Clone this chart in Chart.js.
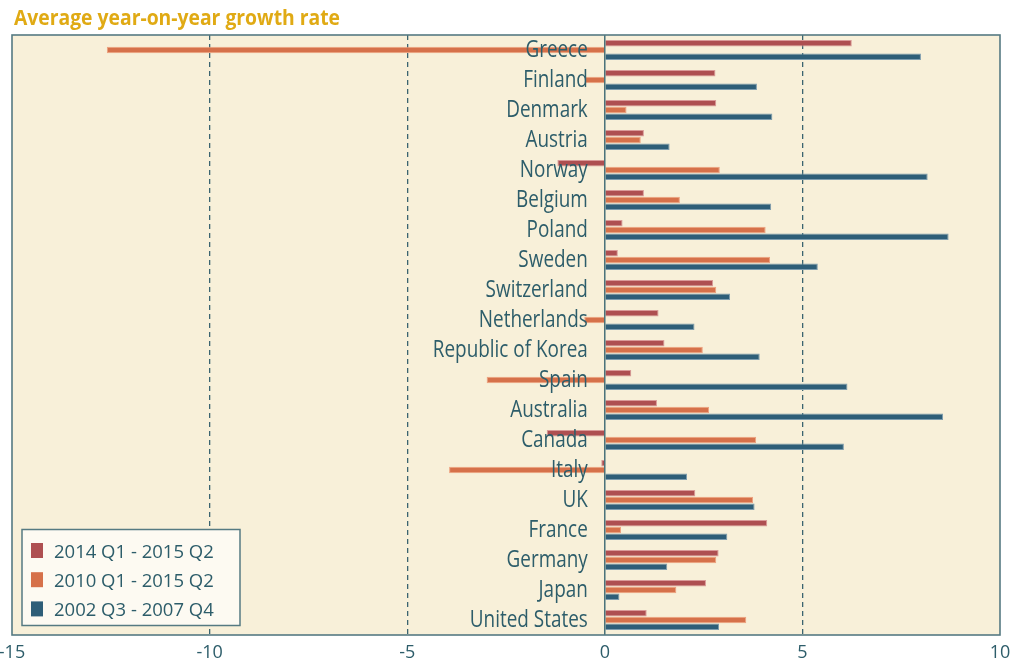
<!DOCTYPE html>
<html>
<head>
<meta charset="utf-8">
<script src="https://cdn.jsdelivr.net/npm/chart.js@4.4.1/dist/chart.umd.min.js"></script>
<style>
    html, body { margin: 0; padding: 0; background: #ffffff; }
    #wrap { width: 1023px; height: 667px; position: relative; }
</style>
</head>
<body>
<div id="wrap"><canvas id="growth"></canvas></div>
<script>
"use strict";

const titleText = "Average year-on-year growth rate";
const countries = ["Greece", "Finland", "Denmark", "Austria", "Norway", "Belgium", "Poland", "Sweden",
    "Switzerland", "Netherlands", "Republic of Korea", "Spain", "Australia", "Canada", "Italy", "UK",
    "France", "Germany", "Japan", "United States"];
const seriesNames = ["2014 Q1 - 2015 Q2", "2010 Q1 - 2015 Q2", "2002 Q3 - 2007 Q4"];
const growth2014 = [6.25, 2.8, 2.82, 0.99, -1.2, 0.99, 0.45, 0.33, 2.74, 1.36, 1.51, 0.67, 1.32, -1.47, -0.09, 2.29, 4.11, 2.88, 2.56, 1.06];
const growth2010 = [-12.6, -0.5, 0.55, 0.91, 2.91, 1.9, 4.07, 4.18, 2.82, -0.52, 2.48, -2.99, 2.64, 3.83, -3.94, 3.75, 0.41, 2.82, 1.81, 3.58];
const growth2002 = [8.0, 3.85, 4.24, 1.64, 8.17, 4.21, 8.7, 5.39, 3.17, 2.27, 3.92, 6.14, 8.56, 6.05, 2.08, 3.79, 3.1, 1.58, 0.37, 2.89];
const xMin = -15;
const xMax = 10;
const xStep = 5;

const fills = ["#ae4f51", "#d6714a", "#2e5e78"];
const edges = ["#d99a98", "#eda27f", "#7d9cae"];
const ink = "#2d5d6a";
const gold = "#e0aa14";
const FONT = "'Open Sans', sans-serif";

// draw text squeezed horizontally so it fits a target width like the condensed original
function squeezed(ctx, text, x, y, font, squeeze, align) {
    ctx.save();
    ctx.font = font;
    ctx.textAlign = "left";
    ctx.textBaseline = "alphabetic";
    const w = ctx.measureText(text).width * squeeze;
    const left = align === "right" ? x - w : x;
    ctx.translate(left, y);
    ctx.scale(squeeze, 1);
    ctx.fillText(text, 0, 0);
    ctx.restore();
}

function squeezeFor(ctx, font, ref, target) {
    ctx.save();
    ctx.font = font;
    const w = ctx.measureText(ref).width;
    ctx.restore();
    return Math.min(1, target / w);
}

const panel = {
    id: "panel",
    beforeDraw(chart) {
        const { ctx, chartArea: a } = chart;
        ctx.save();
        ctx.fillStyle = "#f8f0d9";
        ctx.fillRect(a.left, a.top, a.right - a.left, a.bottom - a.top);
        ctx.restore();
    },
    afterDatasetsDraw(chart) {
        const { ctx, chartArea: a } = chart;
        const xs = chart.scales.x;
        const ys = chart.scales.y;
        const zero = xs.getPixelForValue(0);

        ctx.save();
        ctx.strokeStyle = ink;
        ctx.lineWidth = 1.3;
        ctx.beginPath();
        ctx.moveTo(zero, a.top);
        ctx.lineTo(zero, a.bottom);
        ctx.stroke();

        // country names sit on top of the bars, just left of zero
        ctx.fillStyle = ink;
        const labelFont = "23px " + FONT;
        const sq = squeezeFor(ctx, labelFont, "Republic of Korea", 155);
        countries.forEach(function(name, i) {
            const y = ys.getPixelForValue(i);
            squeezed(ctx, name, zero - 17, y + 6.5, labelFont, sq, "right");
        });

        ctx.strokeStyle = "#557a82";
        ctx.lineWidth = 1.6;
        ctx.strokeRect(a.left, a.top, a.right - a.left, a.bottom - a.top);
        ctx.restore();
    },
    afterDraw(chart) {
        const { ctx } = chart;
        ctx.save();

        // title
        ctx.fillStyle = gold;
        const titleFont = "bold 22px " + FONT;
        squeezed(ctx, titleText, 14, 25, titleFont, squeezeFor(ctx, titleFont, titleText, 326), "left");

        // legend box in the lower left corner
        const bx = 22, by = 529.5, bw = 218, bh = 96;
        ctx.fillStyle = "#fdfaf2";
        ctx.fillRect(bx, by, bw, bh);
        ctx.strokeStyle = "#557a82";
        ctx.lineWidth = 1.5;
        ctx.strokeRect(bx, by, bw, bh);

        const legFont = "18.5px " + FONT;
        const sq = squeezeFor(ctx, legFont, seriesNames[0], 169);
        chart.data.datasets.forEach(function(ds, i) {
            const top = 543 + i * 29.2;
            ctx.fillStyle = ds.backgroundColor;
            ctx.fillRect(31, top, 12, 15);
            ctx.fillStyle = ink;
            squeezed(ctx, ds.label, 54, top + 15, legFont, sq, "left");
        });
        ctx.restore();
    }
};

window.addEventListener("load", function() {
    const ctx = document.getElementById("growth");
    new Chart(ctx, {
        "type": "bar",
        "data": {
            "labels": countries,
            "datasets": [growth2014, growth2010, growth2002].map(function(values, i) {
                return {
                    "label": seriesNames[i],
                    "data": values,
                    "backgroundColor": fills[i],
                    "borderColor": edges[i],
                    "borderWidth": 1,
                    "barPercentage": 0.96,
                    "categoryPercentage": 0.68
                };
            })
        },
        "options": {
            "indexAxis": "y",
            "responsive": true,
            "maintainAspectRatio": false,
            "animation": false,
            "layout": {
                "autoPadding": false,
                "padding": { "top": 35, "left": 12, "right": 23, "bottom": 0 }
            },
            "plugins": {
                "legend": { "display": false },
                "title": { "display": false },
                "tooltip": { "enabled": false }
            },
            "scales": {
                "x": {
                    "min": xMin,
                    "max": xMax,
                    "afterFit": function(scale) {
                        scale.height = 32;
                        scale.paddingLeft = 0;
                        scale.paddingRight = 0;
                    },
                    "ticks": {
                        "stepSize": xStep,
                        "color": ink,
                        "padding": 7,
                        "font": { "family": FONT, "size": 18 }
                    },
                    "grid": {
                        "drawTicks": false,
                        "lineWidth": 1.3,
                        "color": function(c) {
                            const v = c.tick ? c.tick.value : null;
                            return (v === -10 || v === -5 || v === 5) ? "#3b6470" : "rgba(0,0,0,0)";
                        }
                    },
                    "border": { "display": false, "dash": [5, 4] }
                },
                "y": {
                    "display": false,
                    "grid": { "display": false }
                }
            }
        },
        "plugins": [panel]
    });
});
</script>
</body>
</html>
